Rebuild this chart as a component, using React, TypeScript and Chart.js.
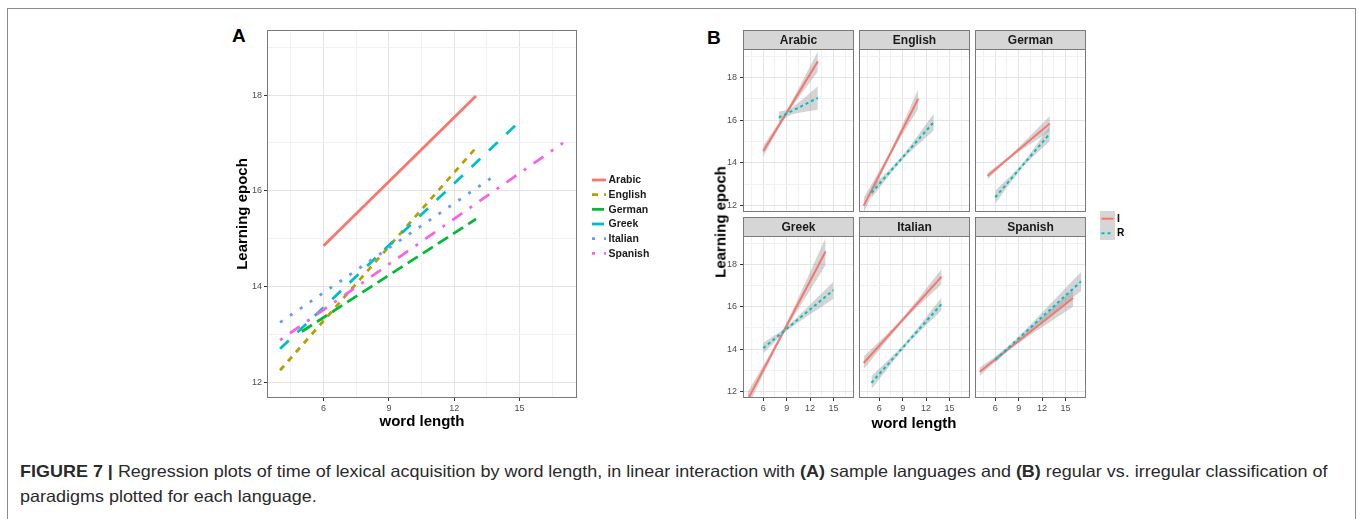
import React, { useEffect, useLayoutEffect, useRef, useState } from 'react';
import { Chart, registerables } from 'chart.js';

Chart.register(...registerables);

const FONT = '"Liberation Sans", Arial, Helvetica, sans-serif';

// ---------- Panel A data ----------
const languages = ['Arabic', 'English', 'German', 'Greek', 'Italian', 'Spanish'];
const langColors = ['#F8766D', '#B79F00', '#00BA38', '#00BFC4', '#619CFF', '#F564E3'];
const langDash = [[], [6, 6], [12, 6], [12, 12], [3, 9], [3, 9, 12, 9]];
const aStartX = [6, 4, 5, 4, 4, 4];
const aEndX = [13, 13, 13, 15, 14, 17];
const aStartY = [14.85, 12.25, 13.06, 12.7, 13.25, 12.88];
const aEndY = [17.98, 16.9, 15.41, 17.45, 16.36, 17.0];

// tick labels (both panels)
const xTickLabels = [6, 9, 12, 15];
const yTickLabels = [12, 14, 16, 18];

// ---------- Panel B data ----------
const classes = ['I', 'R'];
const classColors = ['#F8766D', '#00BFC4'];
const irrStartX = [6, 4, 5, 4, 4, 4];
const irrEndX = [13, 11, 13, 14, 14, 16];
const irrStartY = [14.55, 12.0, 13.38, 11.62, 13.35, 12.94];
const irrEndY = [18.75, 17.0, 15.84, 18.6, 17.42, 16.41];
const irrBandStart = [0.25, 0.35, 0.15, 0.35, 0.3, 0.2];
const irrBandNarrowX = [9, 7.5, 8, 8.5, 9, 8];
const irrBandNarrow = [0.1, 0.12, 0.08, 0.12, 0.1, 0.08];
const irrBandEnd = [0.47, 0.45, 0.35, 0.63, 0.35, 0.4];

const regStartX = [8, 5, 6, 6, 5, 6];
const regEndX = [13, 13, 13, 15, 14, 17];
const regStartY = [16.12, 12.6, 12.39, 14.05, 12.42, 13.5];
const regEndY = [17.04, 15.91, 15.37, 16.78, 16.13, 17.19];
const regBandStart = [0.28, 0.25, 0.3, 0.25, 0.3, 0.15];
const regBandNarrowX = [9.5, 9, 9.5, 9, 9.5, 8.5];
const regBandNarrow = [0.15, 0.1, 0.1, 0.1, 0.1, 0.08];
const regBandEnd = [0.55, 0.4, 0.35, 0.4, 0.3, 0.45];

// ---------- helpers ----------
const isMajorX = (v: number) => Math.abs(v / 3 - Math.round(v / 3)) < 1e-6;
const isMajorY = (v: number) => Math.abs(v / 2 - Math.round(v / 2)) < 1e-6;

const framePlugin = {
  id: 'frame',
  afterDraw(chart: any, _args: any, opts: any) {
    const { ctx, chartArea: a } = chart;
    ctx.save();
    ctx.lineWidth = 1;
    if (opts.strip) {
      const h = opts.stripHeight;
      ctx.fillStyle = opts.stripFill;
      ctx.fillRect(a.left, a.top - h, a.right - a.left, h);
      ctx.strokeStyle = opts.color;
      ctx.strokeRect(a.left + 0.5, a.top - h + 0.5, a.right - a.left - 1, h);
      ctx.fillStyle = '#1a1a1a';
      ctx.font = opts.stripFont;
      ctx.textAlign = 'center';
      ctx.textBaseline = 'middle';
      ctx.fillText(opts.strip, (a.left + a.right) / 2, a.top - h / 2 + 1);
    }
    ctx.strokeStyle = opts.color;
    ctx.strokeRect(a.left + 0.5, a.top + 0.5, a.right - a.left - 1, a.bottom - a.top - 1);
    ctx.restore();
  },
};

const keyLegendPlugin = {
  id: 'keyLegend',
  afterDraw(chart: any, _args: any, opts: any) {
    if (!opts || !opts.show) return;
    const { ctx } = chart;
    const items = chart.data.datasets.filter((d: any) => d.label);
    ctx.save();
    items.forEach((d: any, i: number) => {
      const y = opts.y + i * opts.rowHeight;
      ctx.strokeStyle = d.borderColor;
      ctx.lineWidth = d.borderWidth;
      ctx.setLineDash(d.borderDash || []);
      ctx.beginPath();
      ctx.moveTo(opts.x, y);
      ctx.lineTo(opts.x + opts.keyWidth, y);
      ctx.stroke();
      ctx.setLineDash([]);
      ctx.fillStyle = '#1a1a1a';
      ctx.font = opts.font;
      ctx.textAlign = 'left';
      ctx.textBaseline = 'middle';
      ctx.fillText(d.label, opts.x + opts.keyWidth + opts.gap, y + 0.5);
    });
    ctx.restore();
  },
};

function axis(kind: 'x' | 'y', o: any) {
  const major = kind === 'x' ? isMajorX : isMajorY;
  const labels = kind === 'x' ? xTickLabels : yTickLabels;
  return {
    type: 'linear',
    min: o.min,
    max: o.max,
    border: { display: false },
    grid: {
      color: (c: any) => (c.tick && major(c.tick.value) ? '#e4e4e4' : '#f1f1f1'),
      lineWidth: 1,
      drawTicks: o.showTicks,
      tickLength: 3,
      tickColor: (c: any) => (c.tick && major(c.tick.value) ? '#333333' : 'rgba(0,0,0,0)'),
    },
    ticks: {
      display: o.showTicks,
      stepSize: kind === 'x' ? 1.5 : 1,
      includeBounds: false,
      autoSkip: false,
      maxRotation: 0,
      minRotation: 0,
      padding: o.tickPadding,
      color: '#4d4d4d',
      font: { family: FONT, size: 9 },
      callback: (v: number) => (labels.some((l) => Math.abs(l - v) < 1e-6) ? String(v) : ''),
    },
    title: o.title
      ? {
          display: true,
          text: o.title,
          color: '#000',
          padding: 0,
          font: { family: FONT, size: 15, weight: 'bold', lineHeight: 1.2 },
        }
      : { display: false },
    afterFit: (s: any) => {
      if (kind === 'x') {
        s.height = o.size;
        s.paddingLeft = 0;
        s.paddingRight = 0;
      } else {
        s.width = o.size;
        s.paddingTop = 0;
        s.paddingBottom = 0;
      }
    },
  };
}

function ChartBox({ left, top, width, height, make }: any) {
  const ref = useRef<HTMLCanvasElement>(null);
  useEffect(() => {
    const chart = new Chart(ref.current as HTMLCanvasElement, make());
    return () => chart.destroy();
  }, []);
  return (
    <canvas
      ref={ref}
      width={width}
      height={height}
      style={{ position: 'absolute', left, top, width, height }}
    />
  );
}

// ---------- Panel A ----------
const A_BOX = { left: 234, top: 20, width: 440, height: 411 };
function makeA() {
  const datasets = languages.map((lab, i) => ({
    label: lab,
    data: [
      { x: aStartX[i], y: aStartY[i] },
      { x: aEndX[i], y: aEndY[i] },
    ],
    borderColor: langColors[i],
    backgroundColor: langColors[i],
    borderWidth: 2.8,
    borderDash: langDash[i],
    showLine: true,
    pointRadius: 0,
    fill: false,
    order: languages.length - i,
  }));
  return {
    type: 'scatter',
    data: { datasets },
    options: {
      animation: false,
      responsive: false,
      events: [],
      layout: { padding: { top: 10, left: 0, bottom: 0, right: A_BOX.width - (577 - A_BOX.left) } },
      scales: {
        x: axis('x', { min: 3.4, max: 17.64, showTicks: true, size: 33, tickPadding: 2, title: 'word length' }),
        y: axis('y', { min: 11.67, max: 19.36, showTicks: true, size: 33, tickPadding: 2, title: 'Learning epoch' }),
      },
      plugins: {
        legend: { display: false },
        tooltip: { enabled: false },
        frame: { color: '#7a7a7a' },
        keyLegend: {
          show: true,
          x: 592 - A_BOX.left,
          y: 180 - A_BOX.top,
          rowHeight: 14.67,
          keyWidth: 14,
          gap: 2.5,
          font: `bold 10.5px ${FONT}`,
        },
      },
    },
    plugins: [framePlugin, keyLegendPlugin],
  };
}

// ---------- Panel B ----------
const colLeft = [743, 859, 975];
const PLOT_W = 111;
const rowPlotTop = [49, 236];
const rowPlotH = [163, 162];
const STRIP_H = 19;
const BAND = 'rgba(153,153,153,0.42)';

function bandPts(x0: number, x1: number, y0: number, y1: number, xn: number, h0: number, hn: number, h1: number, sign: number) {
  const yn = y0 + ((y1 - y0) * (xn - x0)) / (x1 - x0);
  return [
    { x: x0, y: y0 + sign * h0 },
    { x: xn, y: yn + sign * hn },
    { x: x1, y: y1 + sign * h1 },
  ];
}

function facetBox(i: number) {
  const col = i % 3;
  const row = Math.floor(i / 3);
  const yW = col === 0 ? 30 : 0;
  const xH = row === 1 ? 20 : 0;
  return {
    left: colLeft[col] - yW,
    top: rowPlotTop[row] - STRIP_H,
    width: yW + PLOT_W,
    height: STRIP_H + rowPlotH[row] + xH,
    yW,
    xH,
  };
}

function makeFacet(i: number) {
  const b = facetBox(i);
  const band = (lower: boolean, order: number, pts: any) => ({
    data: pts,
    showLine: true,
    borderWidth: 0,
    borderColor: 'rgba(0,0,0,0)',
    backgroundColor: BAND,
    pointRadius: 0,
    tension: 0.3,
    fill: lower ? false : '-1',
    order,
  });
  const datasets = [
    band(true, 4, bandPts(irrStartX[i], irrEndX[i], irrStartY[i], irrEndY[i], irrBandNarrowX[i], irrBandStart[i], irrBandNarrow[i], irrBandEnd[i], -1)),
    band(false, 4, bandPts(irrStartX[i], irrEndX[i], irrStartY[i], irrEndY[i], irrBandNarrowX[i], irrBandStart[i], irrBandNarrow[i], irrBandEnd[i], 1)),
    {
      data: [
        { x: irrStartX[i], y: irrStartY[i] },
        { x: irrEndX[i], y: irrEndY[i] },
      ],
      showLine: true,
      borderColor: classColors[0],
      borderWidth: 2,
      pointRadius: 0,
      fill: false,
      order: 3,
    },
    band(true, 2, bandPts(regStartX[i], regEndX[i], regStartY[i], regEndY[i], regBandNarrowX[i], regBandStart[i], regBandNarrow[i], regBandEnd[i], -1)),
    band(false, 2, bandPts(regStartX[i], regEndX[i], regStartY[i], regEndY[i], regBandNarrowX[i], regBandStart[i], regBandNarrow[i], regBandEnd[i], 1)),
    {
      data: [
        { x: regStartX[i], y: regStartY[i] },
        { x: regEndX[i], y: regEndY[i] },
      ],
      showLine: true,
      borderColor: classColors[1],
      borderWidth: 2,
      borderDash: [3, 3],
      pointRadius: 0,
      fill: false,
      order: 1,
    },
  ];
  return {
    type: 'scatter',
    data: { datasets },
    options: {
      animation: false,
      responsive: false,
      events: [],
      layout: { padding: { top: STRIP_H, left: 0, right: 0, bottom: 0 } },
      scales: {
        x: axis('x', { min: 3.4, max: 17.64, showTicks: b.xH > 0, size: b.xH, tickPadding: 2 }),
        y: axis('y', { min: 11.7, max: 19.33, showTicks: b.yW > 0, size: b.yW, tickPadding: 3 }),
      },
      plugins: {
        legend: { display: false },
        tooltip: { enabled: false },
        frame: {
          color: '#7a7a7a',
          strip: languages[i],
          stripHeight: STRIP_H,
          stripFill: '#d6d6d6',
          stripFont: `bold 12px ${FONT}`,
        },
      },
    },
    plugins: [framePlugin],
  };
}

// ---------- Caption ----------
function Caption() {
  const ref = useRef<HTMLSpanElement>(null);
  const [sx, setSx] = useState(1);
  useLayoutEffect(() => {
    if (ref.current) {
      const w = ref.current.offsetWidth;
      if (w > 0) setSx(1308 / w);
    }
  }, []);
  const base: React.CSSProperties = {
    position: 'absolute',
    left: 20,
    fontFamily: FONT,
    fontSize: 16.5,
    lineHeight: 1,
    color: '#2a2a2a',
    whiteSpace: 'nowrap',
    transformOrigin: '0 0',
    transform: `scaleX(${sx})`,
  };
  return (
    <>
      <span ref={ref} style={{ ...base, top: 463 }}>
        <b>FIGURE 7 |</b> Regression plots of time of lexical acquisition by word length, in linear interaction with{' '}
        <b>(A)</b> sample languages and <b>(B)</b> regular vs. irregular classification of
      </span>
      <span style={{ ...base, top: 488 }}>paradigms plotted for each language.</span>
    </>
  );
}

const textBase: React.CSSProperties = {
  position: 'absolute',
  fontFamily: FONT,
  fontWeight: 'bold',
  lineHeight: 1,
  whiteSpace: 'nowrap',
  color: '#000',
};

export default function App() {
  return (
    <div
      style={{
        position: 'absolute',
        left: 0,
        top: 0,
        width: 1358,
        height: 519,
        background: '#fff',
        overflow: 'hidden',
      }}
    >
      <div
        style={{
          position: 'absolute',
          left: 7,
          top: 8,
          width: 1349,
          height: 600,
          border: '1px solid #8c8c8c',
          boxSizing: 'border-box',
        }}
      />
      <div style={{ ...textBase, left: 232, top: 25.5, fontSize: 19 }}>A</div>
      <div style={{ ...textBase, left: 707, top: 27.5, fontSize: 19 }}>B</div>

      <ChartBox {...A_BOX} make={makeA} />

      {languages.map((_, i) => {
        const b = facetBox(i);
        return <ChartBox key={i} left={b.left} top={b.top} width={b.width} height={b.height} make={() => makeFacet(i)} />;
      })}

      <div
        style={{
          ...textBase,
          left: 720,
          top: 222,
          fontSize: 15,
          transform: 'translate(-50%, -50%) rotate(-90deg)',
        }}
      >
        Learning epoch
      </div>
      <div style={{ ...textBase, left: 914, top: 422, fontSize: 15, transform: 'translate(-50%, -50%)' }}>
        word length
      </div>

      {/* Panel B legend */}
      <div style={{ position: 'absolute', left: 1100, top: 211, width: 15, height: 29, background: '#d6d6d6' }} />
      <svg style={{ position: 'absolute', left: 1100, top: 211 }} width={15} height={29}>
        <line x1={1.5} x2={13.5} y1={7.7} y2={7.7} stroke={classColors[0]} strokeWidth={2} />
        <line x1={1.5} x2={13.5} y1={22.3} y2={22.3} stroke={classColors[1]} strokeWidth={2} strokeDasharray="3 3" />
      </svg>
      <div style={{ ...textBase, left: 1117, top: 213.8, fontSize: 10 }}>{classes[0]}</div>
      <div style={{ ...textBase, left: 1117, top: 228.4, fontSize: 10 }}>{classes[1]}</div>

      <Caption />
    </div>
  );
}
